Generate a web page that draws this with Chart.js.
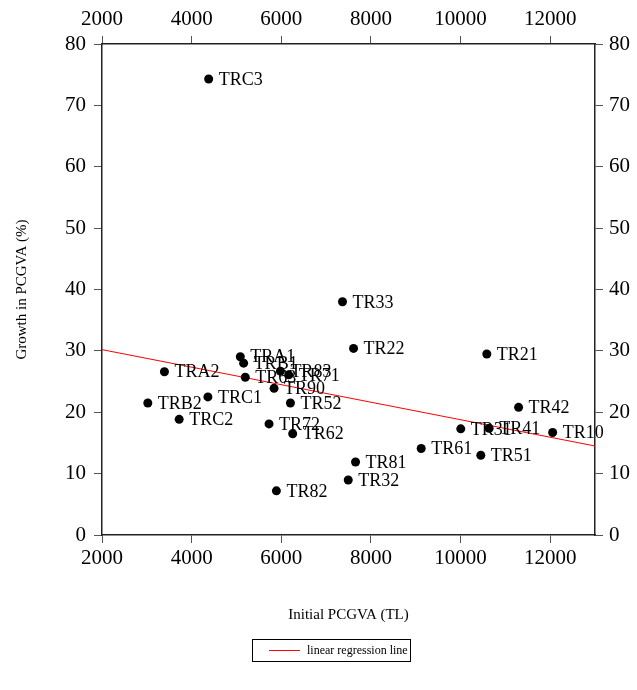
<!DOCTYPE html>
<html>
<head>
<meta charset="utf-8">
<script src="https://cdn.jsdelivr.net/npm/chart.js@4.4.0/dist/chart.umd.min.js"></script>
<style>
  html, body { margin: 0; padding: 0; background: #fff; }
  #wrap { width: 637px; height: 690px; }
</style>
</head>
<body>
<div id="wrap"><canvas id="growthChart"></canvas></div>
<script>
// regions, initial PCGVA (TL) and growth in PCGVA (%)
const regions = ['TRC3', 'TR33', 'TR22', 'TR21', 'TRA1', 'TRB1', 'TRA2', 'TR83', 'TR71', 'TR63',
                 'TR90', 'TRC1', 'TRB2', 'TR52', 'TRC2', 'TR72', 'TR62', 'TR81', 'TR32', 'TR82',
                 'TR42', 'TR31', 'TR41', 'TR10', 'TR61', 'TR51'];
const initialPcgva = [4380, 7366, 7612, 10586, 5086, 5160, 3393, 5980, 6166, 5197,
                      5839, 4363, 3022, 6204, 3722, 5727, 6255, 7657, 7494, 5891,
                      11295, 10005, 10638, 12055, 9122, 10452];
const growth = [74.3, 38.0, 30.4, 29.5, 29.05, 28.0, 26.6, 26.7, 26.1, 25.7,
                23.9, 22.5, 21.5, 21.5, 18.85, 18.1, 16.5, 11.9, 8.96, 7.2,
                20.8, 17.3, 17.4, 16.7, 14.1, 13.0];

// regression line end points
const lineX = [2000, 13000];
const lineY = [30.2, 14.5];

const xTicks = [2000, 4000, 6000, 8000, 10000, 12000];
const yTicks = [0, 10, 20, 30, 40, 50, 60, 70, 80];

Chart.defaults.font.family = "'Liberation Serif', 'DejaVu Serif', serif";
Chart.defaults.color = '#000';

const tickFont = { size: 21 };
const plain = v => String(v);

function setTicks(values) {
    return scale => { scale.ticks = values.map(v => ({ value: v })); };
}

const gridOpts = { display: true, drawOnChartArea: false, drawTicks: true, tickLength: 8, color: '#555', lineWidth: 1 };
const borderOpts = { display: true, color: '#222', width: 1.5 };

// draws region name next to each point
const pointLabels = {
    id: 'pointLabels',
    afterDatasetsDraw(chart) {
        const ctx = chart.ctx;
        const meta = chart.getDatasetMeta(0);
        ctx.save();
        ctx.font = "18px 'Liberation Serif'";
        ctx.fillStyle = '#000';
        ctx.textAlign = 'left';
        ctx.textBaseline = 'middle';
        meta.data.forEach((pt, i) => {
            ctx.fillText(regions[i], pt.x + 10, pt.y + 1);
        });
        ctx.restore();
    }
};

// boxed legend under the x axis title
const boxLegend = {
    id: 'boxLegend',
    afterDraw(chart) {
        const ctx = chart.ctx;
        const left = 252, top = 639, w = 158, h = 22;
        ctx.save();
        ctx.strokeStyle = '#000';
        ctx.lineWidth = 1;
        ctx.strokeRect(left + 0.5, top + 0.5, w, h);
        ctx.strokeStyle = 'red';
        ctx.beginPath();
        ctx.moveTo(left + 17, top + 11.5);
        ctx.lineTo(left + 48, top + 11.5);
        ctx.stroke();
        ctx.font = "12px 'Liberation Serif'";
        ctx.fillStyle = '#000';
        ctx.textBaseline = 'middle';
        ctx.fillText(chart.data.datasets[1].label, left + 55, top + 11.5);
        ctx.restore();
    }
};

const ctx = document.getElementById('growthChart').getContext('2d');
new Chart(ctx, {
    data: {
        datasets: [{
            type: 'scatter',
            label: 'regions',
            data: initialPcgva.map((x, i) => ({ x: x, y: growth[i] })),
            pointRadius: 4.5,
            pointBackgroundColor: '#000',
            pointBorderWidth: 0,
            xAxisID: 'x',
            yAxisID: 'y'
        }, {
            type: 'line',
            label: 'linear regression line',
            data: lineX.map((x, i) => ({ x: x, y: lineY[i] })),
            borderColor: 'red',
            borderWidth: 1,
            pointRadius: 0,
            fill: false,
            xAxisID: 'x',
            yAxisID: 'y'
        }]
    },
    options: {
        responsive: true,
        maintainAspectRatio: false,
        animation: false,
        layout: { padding: { bottom: 60 } },
        plugins: { legend: { display: false }, tooltip: { enabled: false } },
        scales: {
            x: {
                type: 'linear', position: 'bottom', min: 2000, max: 13000,
                afterBuildTicks: setTicks(xTicks),
                afterFit: s => { s.height = 95; },
                ticks: { font: tickFont, padding: 3, maxRotation: 0, callback: plain },
                grid: gridOpts, border: borderOpts,
                title: { display: true, text: 'Initial PCGVA (TL)', font: { size: 15 }, padding: { top: 0, bottom: 6 } }
            },
            x2: {
                type: 'linear', position: 'top', min: 2000, max: 13000,
                afterBuildTicks: setTicks(xTicks),
                afterFit: s => { s.height = 44; },
                ticks: { font: tickFont, padding: 4, maxRotation: 0, callback: plain },
                grid: gridOpts, border: borderOpts
            },
            y: {
                type: 'linear', position: 'left', min: 0, max: 80,
                afterBuildTicks: setTicks(yTicks),
                afterFit: s => { s.width = 102; },
                ticks: { font: tickFont, padding: 8, callback: plain },
                grid: gridOpts, border: borderOpts,
                title: { display: true, text: 'Growth in PCGVA (%)', font: { size: 15 }, padding: { top: 13, bottom: 0 } }
            },
            y2: {
                type: 'linear', position: 'right', min: 0, max: 80,
                afterBuildTicks: setTicks(yTicks),
                afterFit: s => { s.width = 42; },
                ticks: { font: tickFont, padding: 6, callback: plain },
                grid: gridOpts, border: borderOpts
            }
        }
    },
    plugins: [pointLabels, boxLegend]
});
</script>
</body>
</html>
